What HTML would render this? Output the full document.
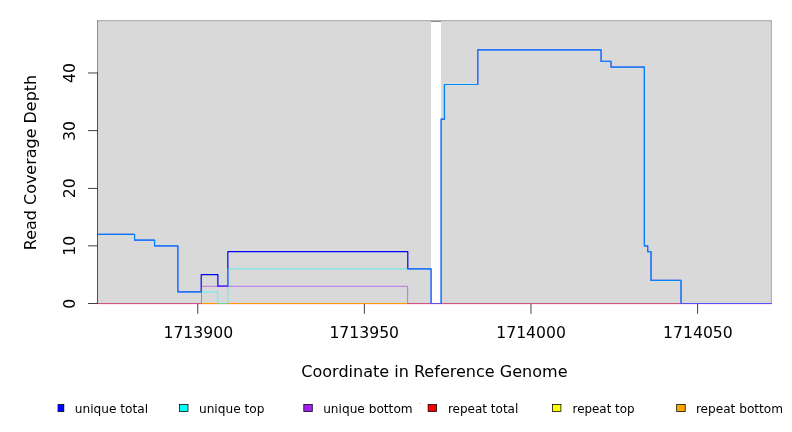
<!DOCTYPE html>
<html lang="en"><head><meta charset="utf-8"><title>Read Coverage Depth</title>
<style>html,body{margin:0;padding:0;background:#fff;}body{width:792px;height:432px;overflow:hidden;}</style>
</head><body>
<svg width="792" height="432" viewBox="0 0 792 432" style="display:block">
<rect width="792" height="432" fill="#fff"/>
<g stroke="#000" stroke-width="0.75" fill="none" stroke-linecap="round" stroke-linejoin="round">
<path d="M97.8,21.1V303.5"/><path d="M97.8,21.1H770.9"/><path d="M770.9,21.1V303.5"/><path d="M97.8,303.5H770.9"/>
<path d="M97.7,303.50V72.97"/>
<path d="M97.7,303.50H88.44"/>
<path d="M97.7,245.87H88.44"/>
<path d="M97.7,188.43H88.44"/>
<path d="M97.7,130.60H88.44"/>
<path d="M97.7,72.97H88.44"/>
<path d="M197.77,303.5H697.59"/>
<path d="M197.77,303.5v9.9"/>
<path d="M364.37,303.5v9.9"/>
<path d="M530.98,303.5v9.9"/>
<path d="M697.59,303.5v9.9"/>
</g>
<rect x="97.8" y="21.1" width="333.22" height="282.40" fill="#D9D9D9"/>
<rect x="441.01" y="21.1" width="329.89" height="282.40" fill="#D9D9D9"/>
<clipPath id="pc"><rect x="97.8" y="21.1" width="674.10" height="283.40"/></clipPath>
<g fill="none" stroke-linejoin="round" stroke-linecap="round" clip-path="url(#pc)">
<path d="M97.80,303.50H770.90" stroke="#FF0000" stroke-width="1.2"/>
<path d="M97.80,303.50H770.90" stroke="#FFFF00" stroke-width="0.56"/>
<path d="M97.80,303.50H770.90" stroke="#FFA500" stroke-width="0.56"/>
<path d="M97.80,234.34H134.55V240.10H154.55V245.87H177.87V291.97H201.20V274.68H217.86V286.21H227.85V251.63H407.79V268.92H431.12V303.50H441.11V119.08H444.45V84.50H477.77V49.92H601.06V61.44H611.06V67.21H644.38V245.87H647.71V251.63H651.04V280.45H681.03V303.50H770.90" stroke="#0000FF" stroke-width="1.2"/>
<path d="M97.80,234.34H134.55V240.10H154.55V245.87H177.87V291.97H217.86V303.50H227.85V268.92H431.12V303.50H441.11V119.08H444.45V84.50H477.77V49.92H601.06V61.44H611.06V67.21H644.38V245.87H647.71V251.63H651.04V280.45H681.03V303.50H770.90" stroke="#00FFFF" stroke-width="0.56"/>
<path d="M97.8,303.5H201.5V286.31H407.65V303.5H770.9" stroke="#A020F0" stroke-width="0.56"/>
</g>
<rect x="97.8" y="304" width="673.10" height="1" fill="#FF0000" opacity="0.08"/>
<g font-family="'DejaVu Sans','Liberation Sans',sans-serif" fill="#000">
<g font-size="15.65" text-anchor="middle">
<text x="198.32" y="337.7">1713900</text>
<text x="364.22" y="337.7">1713950</text>
<text x="531.08" y="337.7">1714000</text>
<text x="697.94" y="337.7">1714050</text>
<text transform="translate(75.4,303.85) rotate(-90)">0</text>
<text transform="translate(75.4,245.87) rotate(-90)">10</text>
<text transform="translate(75.4,188.23) rotate(-90)">20</text>
<text transform="translate(75.4,131.05) rotate(-90)">30</text>
<text transform="translate(75.4,72.97) rotate(-90)">40</text>
</g>
<g font-size="16.05" text-anchor="middle">
<text x="434.4" y="377.2">Coordinate in Reference Genome</text>
<text transform="translate(35.8,162.5) rotate(-90)" font-size="15.96">Read Coverage Depth</text>
</g>
<g font-size="12.17">
<clipPath id="lc"><rect x="57.6" y="390" width="740" height="42"/></clipPath>
<g clip-path="url(#lc)">
<rect x="55.20" y="404.45" width="8.65" height="7.15" fill="#0000FF" stroke="#000" stroke-width="0.75"/>
<text x="74.75" y="413.3" font-size="12.17">unique total</text>
<rect x="179.50" y="404.45" width="8.5" height="7.15" fill="#00FFFF" stroke="#000" stroke-width="0.75"/>
<text x="198.95" y="413.3" font-size="12.17">unique top</text>
<rect x="303.80" y="404.45" width="8.5" height="7.15" fill="#A020F0" stroke="#000" stroke-width="0.75"/>
<text x="323.15" y="413.3" font-size="12.17">unique bottom</text>
<rect x="428.10" y="404.45" width="8.5" height="7.15" fill="#FF0000" stroke="#000" stroke-width="0.75"/>
<text x="447.95" y="413.3" font-size="12.0">repeat total</text>
<rect x="552.40" y="404.45" width="8.5" height="7.15" fill="#FFFF00" stroke="#000" stroke-width="0.75"/>
<text x="572.55" y="413.3" font-size="11.9">repeat top</text>
<rect x="676.70" y="404.45" width="8.5" height="7.15" fill="#FFA500" stroke="#000" stroke-width="0.75"/>
<text x="695.90" y="413.3" font-size="12.12">repeat bottom</text>
</g>
<rect x="419" y="403" width="2" height="1" fill="#D6D6D6"/>
</g>
</g>
</svg>
</body></html>
